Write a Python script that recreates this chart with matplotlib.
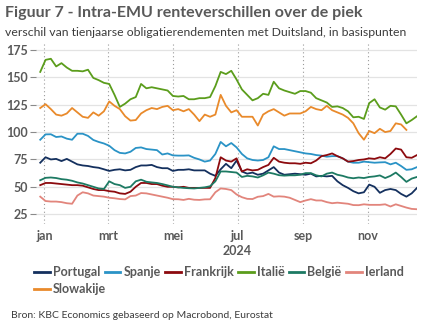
import numpy as np
import pandas as pd
import matplotlib
matplotlib.use("Agg")
import matplotlib.pyplot as plt
from matplotlib.lines import Line2D

plt.rcParams["font.family"] = ["Lato", "DejaVu Sans"]

# 5-daagse waarnemingen (basispunten)
dates = pd.date_range("2023-12-28", periods=72, freq="5D")

portugal = [72, 77, 75, 75.5, 73.5, 75.5, 73, 70.5, 69.5, 69, 68, 67.4, 66, 64.5, 65.5, 66, 65, 65.5,
            68, 69.5, 69.5, 70, 68, 67, 67, 64.5, 65.5, 65.5, 66, 65, 65, 65, 62, 60, 66, 71,
            67, 74, 64, 62, 63, 61, 62, 65, 68, 63, 61, 61.5, 62, 61.5, 61, 62, 59.5, 60,
            59.5, 60, 55, 51.5, 49, 46, 44, 45, 52, 50, 44.5, 47, 48, 47, 43.5, 41, 44, 49]
spanje = [93, 97.9, 98, 95.5, 96, 94, 93, 98.5, 98.5, 96.5, 92.8, 91, 89.6, 87.5, 83.5, 81, 80.5, 82,
          85.5, 86, 84.5, 84, 83.5, 79.5, 80.5, 78.7, 78.5, 78.5, 78.7, 76.5, 75, 73, 74, 80, 91, 87,
          90, 86, 80, 76, 74.5, 74, 74.5, 77, 87, 84.5, 84.5, 83.5, 82.5, 81.5, 80.5, 80, 79, 78.5,
          77.5, 78, 78, 76, 73, 72, 72, 73, 72.5, 72, 72.3, 72.5, 70.5, 72, 69, 65.5, 66, 68]
frankrijk = [51.5, 53.5, 53.5, 53, 52.5, 52, 51.5, 51.5, 51, 49.5, 48, 47, 47, 46, 45.5, 44, 43.5, 45.5,
             50, 53.5, 53.5, 52.5, 52.5, 51, 50, 50, 49.5, 50, 49, 49, 49, 49, 49, 58, 77, 74,
             73, 76, 64, 66, 65, 65.5, 68, 70, 76.5, 73, 72, 71.5, 71.5, 71, 72, 71.5, 74, 78,
             79, 80.5, 78, 76, 73, 73.5, 74.5, 75, 76, 75.5, 77, 76, 80, 85, 84, 77, 76.5, 79]
italie = [155, 166, 167, 160, 163, 159, 156, 156, 155.5, 157, 149.5, 147.5, 145, 144, 134, 123, 126, 130,
          132, 144, 140, 141, 140, 139, 138, 133, 132.5, 133, 130, 130, 131, 131, 132, 142, 155, 153,
          156, 148, 139, 134, 129, 131, 135, 134, 146, 140, 138, 136.5, 135, 137.5, 137.5, 136, 131, 129,
          127, 123, 123.5, 122, 119, 113.5, 114, 112, 126.5, 130, 122.5, 120.5, 124, 123.5, 116, 108, 111, 114.5]
belgie = [56, 58.2, 58.5, 58, 57, 56.5, 55.5, 54, 53, 51.5, 50, 48.5, 48, 55, 52.5, 51.5, 49, 50,
          55, 56.5, 54.6, 54, 53.5, 52.5, 51.3, 50, 49.5, 49, 48.7, 48.5, 49, 49.5, 50.5, 55, 64, 64,
          63.5, 63, 59, 60, 59.5, 58.5, 60.5, 63, 62, 60.6, 60.2, 60.5, 60.5, 61, 62.5, 62.5, 60.5, 59.5,
          62, 63, 61, 60, 58.5, 57.8, 58.5, 58, 59, 59.5, 60.4, 58, 60, 63, 59, 54.5, 57.5, 59]
ierland = [41, 37, 36.5, 36.5, 36, 35, 34.5, 42, 45, 44, 42, 41.5, 41, 40, 39.5, 38.8, 38.5, 41.5,
           42, 44.3, 44, 43, 42, 41, 40, 38.7, 38.6, 38, 39, 38.2, 38, 38.5, 38.6, 45, 48.5, 48,
           47, 43, 40.5, 39, 38.8, 40.9, 41.5, 43.5, 41, 41.3, 41, 40, 38, 36, 37.5, 38.7, 37.5, 37.5,
           36, 35, 35.5, 35, 34.5, 33.3, 33.2, 34, 33.5, 33.5, 33.5, 34, 32, 34, 32.5, 31, 29.8, 29.5]
slowakije = [122, 125.5, 121, 116, 115, 117, 122, 118, 114, 113, 118, 115, 119, 128, 124, 121, 114.5, 110.5,
             111, 117, 120, 122, 121, 123, 124, 120, 121, 119, 121, 116, 110, 116, 114, 116, 134, 124,
             118, 120, 114, 114, 114, 106, 116, 119, 121, 118, 115, 117, 117, 117, 119, 123, 121, 120,
             124, 120, 118, 116, 113, 108, 99, 93, 101, 99, 103, 100, 101, 108, 107, 102]

series = [("Portugal", portugal, "#14305e"),
          ("Spanje", spanje, "#2a93c6"),
          ("Frankrijk", frankrijk, "#8c0a0e"),
          ("Italië", italie, "#5b9d1c"),
          ("België", belgie, "#1d7a63"),
          ("Ierland", ierland, "#e2857c"),
          ("Slowakije", slowakije, "#e98a2b")]

GREY = "#595959"
fig = plt.figure(figsize=(4.32, 3.34), dpi=100)
ax = fig.add_axes([36 / 432, 1 - 224 / 334, 381 / 432, 180 / 334])

for name, vals, col in series:
    ax.plot(dates[:len(vals)], vals, color=col, lw=1.3, label=name, solid_joinstyle="round")

ax.set_ylim(16, 180.5)
ax.set_yticks([25, 50, 75, 100, 125, 150, 175])
ax.set_xlim(pd.Timestamp("2023-12-24"), pd.Timestamp("2024-12-17"))
months = [pd.Timestamp(f"2024-{m:02d}-01") for m in (1, 3, 5, 7, 9, 11)]
ax.set_xticks(months)
ax.set_xticklabels(["jan", "mrt", "mei", "jul", "sep", "nov"])
for s in ax.spines.values():
    s.set_visible(False)
ax.yaxis.grid(True, color="#e3e3e3", lw=0.9, ls="-")
ax.xaxis.grid(True, color="#9a9a9a", lw=0.8, ls=(0, (1, 2.5)))
ax.set_axisbelow(True)
ax.tick_params(axis="y", length=4, width=0.8, color="#8a8a8a", pad=2, labelsize=9, labelcolor=GREY)
ax.tick_params(axis="x", length=0, pad=4, labelsize=9, labelcolor=GREY)
for lab in ax.get_xticklabels() + ax.get_yticklabels():
    lab.set_fontweight("bold")
ax.text(pd.Timestamp("2024-07-01"), -0.15, "2024", transform=ax.get_xaxis_transform(),
        ha="center", va="center", fontsize=9, fontweight="bold", color=GREY)

fig.text(5 / 432, 1 - 13 / 334, "Figuur 7 - Intra-EMU renteverschillen over de piek",
         fontsize=11.5, fontweight="bold", color=GREY, va="center", ha="left")
fig.text(5 / 432, 1 - 32 / 334,
         "verschil van tienjaarse obligatierendementen met Duitsland, in basispunten",
         fontsize=8.8, color="#3c3c3c", va="center", ha="left")

handles = [Line2D([], [], color=c, lw=2) for _, _, c in series]
names = [n for n, _, _ in series]
leg_kw = dict(frameon=False, handlelength=1.25, handletextpad=0.25, columnspacing=0.35,
              prop={"size": 9, "weight": "bold"}, labelcolor=GREY, borderaxespad=0,
              borderpad=0)
fig.legend(handles[:6], names[:6], ncol=6, loc="center left",
           bbox_to_anchor=(34 / 432, 1 - 272 / 334), **leg_kw)
fig.legend(handles[6:], names[6:], ncol=1, loc="center left",
           bbox_to_anchor=(34 / 432, 1 - 289 / 334), **leg_kw)

fig.text(11 / 432, 1 - 315 / 334, "Bron: KBC Economics gebaseerd op Macrobond, Eurostat",
         fontsize=7.5, color="#3c3c3c", va="center", ha="left")

fig.savefig("out.png", dpi=100, facecolor="white")
